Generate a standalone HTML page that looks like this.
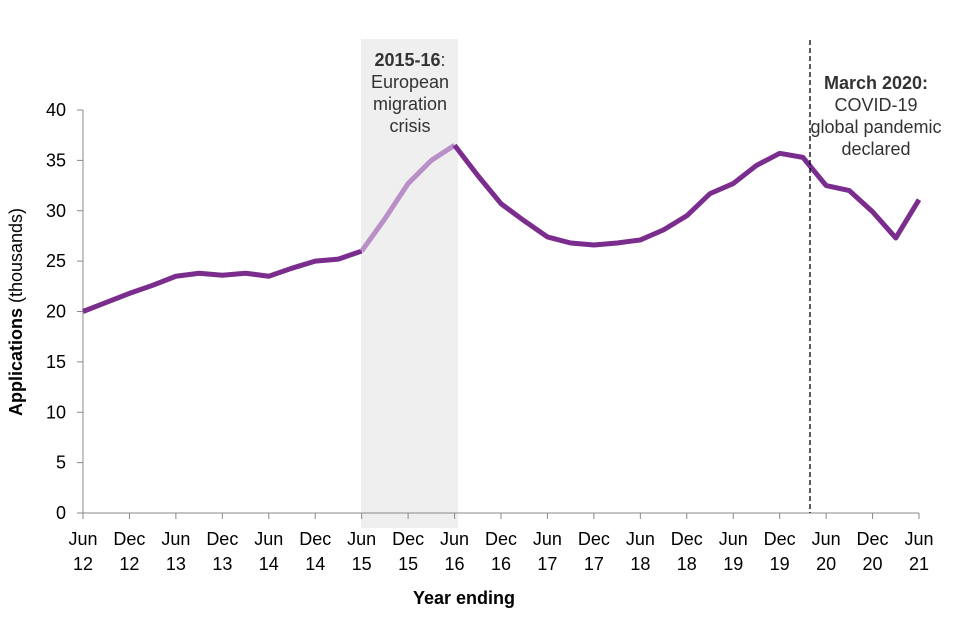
<!DOCTYPE html>
<html><head><meta charset="utf-8"><style>
body{margin:0;background:#fff;}
svg{display:block;font-family:"Liberation Sans",Arial,sans-serif;}
</style></head><body>
<svg id="chart" width="960" height="640">
<rect x="361" y="39" width="97" height="489" fill="#efefef"/>
<g id="axes"></g>
<g id="series"></g>
<line x1="810" y1="40" x2="810" y2="513" stroke="#000" stroke-width="1.3" stroke-dasharray="5,3"/>
<text x="410" y="66" text-anchor="middle" font-size="18" fill="#333"><tspan font-weight="bold">2015-16</tspan>:<tspan x="410" dy="22">European</tspan><tspan x="410" dy="22">migration</tspan><tspan x="410" dy="22">crisis</tspan></text>
<text x="876" y="89" text-anchor="middle" font-size="18" fill="#333"><tspan font-weight="bold">March 2020:</tspan><tspan x="876" dy="22">COVID-19</tspan><tspan x="876" dy="22">global pandemic</tspan><tspan x="876" dy="22">declared</tspan></text>
<text transform="translate(22,312) rotate(-90)" text-anchor="middle" font-size="18" fill="#000"><tspan font-weight="bold">Applications</tspan> (thousands)</text>
<text x="464" y="604" text-anchor="middle" font-size="18" font-weight="bold">Year ending</text>
</svg>
<script>
const values=[20.0,20.9,21.8,22.6,23.5,23.8,23.6,23.8,23.5,24.3,25.0,25.2,26.0,29.2,32.7,35.0,36.5,33.5,30.7,29.0,27.4,26.8,26.6,26.8,27.1,28.1,29.5,31.7,32.7,34.5,35.7,35.3,32.5,32.0,29.9,27.3,31.1];
const tickMonths=["Jun","Dec"];
const tickYears=["12","12","13","13","14","14","15","15","16","16","17","17","18","18","19","19","20","20","21"];
const yTicks=[0,5,10,15,20,25,30,35,40];
const highlightStart=12, highlightEnd=16;
const NS="http://www.w3.org/2000/svg";
const x=i=>83+i*(836/36);
const y=v=>513-v*(403/40);
function mk(t,a,p){const e=document.createElementNS(NS,t);for(const k in a)e.setAttribute(k,a[k]);p.appendChild(e);return e;}
const ax=document.getElementById('axes'), se=document.getElementById('series');
const yl=mk('line',{x1:83,y1:y(0),x2:83,y2:y(40),stroke:'#888','stroke-width':1},ax);


const xl=mk('line',{x1:83,y1:y(0),x2:919,y2:y(0),stroke:'#888','stroke-width':1},ax);


yTicks.forEach(v=>{
 const tk=mk('line',{x1:77,y1:y(v),x2:83,y2:y(v),stroke:'#888'},ax);
 
 
 const t=mk('text',{x:66,y:y(v)+6,'text-anchor':'end','font-size':18},ax);
 t.textContent=v;
 
 
});
tickYears.forEach((yr,k)=>{
 const xi=x(k*2);
 const tk=mk('line',{x1:xi,y1:y(0),x2:xi,y2:y(0)+6,stroke:'#888'},ax);
 
 
 const t=mk('text',{x:xi,y:545,'text-anchor':'middle','font-size':18},ax);
 t.textContent=tickMonths[k%2];
 
 
 const t2=mk('text',{x:xi,y:570,'text-anchor':'middle','font-size':18},ax);
 t2.textContent=yr;
 
 
});
const pts=(a,b)=>values.slice(a,b+1).map((v,i)=>x(a+i)+','+y(v)).join(' ');
const p1=mk('polyline',{points:pts(0,highlightStart),fill:'none',stroke:'#7b2d8e','stroke-width':5,'stroke-linejoin':'round'},se);


const p2=mk('polyline',{points:pts(highlightStart,highlightEnd),fill:'none',stroke:'#b88fc6','stroke-width':5,'stroke-linejoin':'round'},se);


const p3=mk('polyline',{points:pts(highlightEnd,values.length-1),fill:'none',stroke:'#7b2d8e','stroke-width':5,'stroke-linejoin':'round'},se);


</script>
</body></html>
